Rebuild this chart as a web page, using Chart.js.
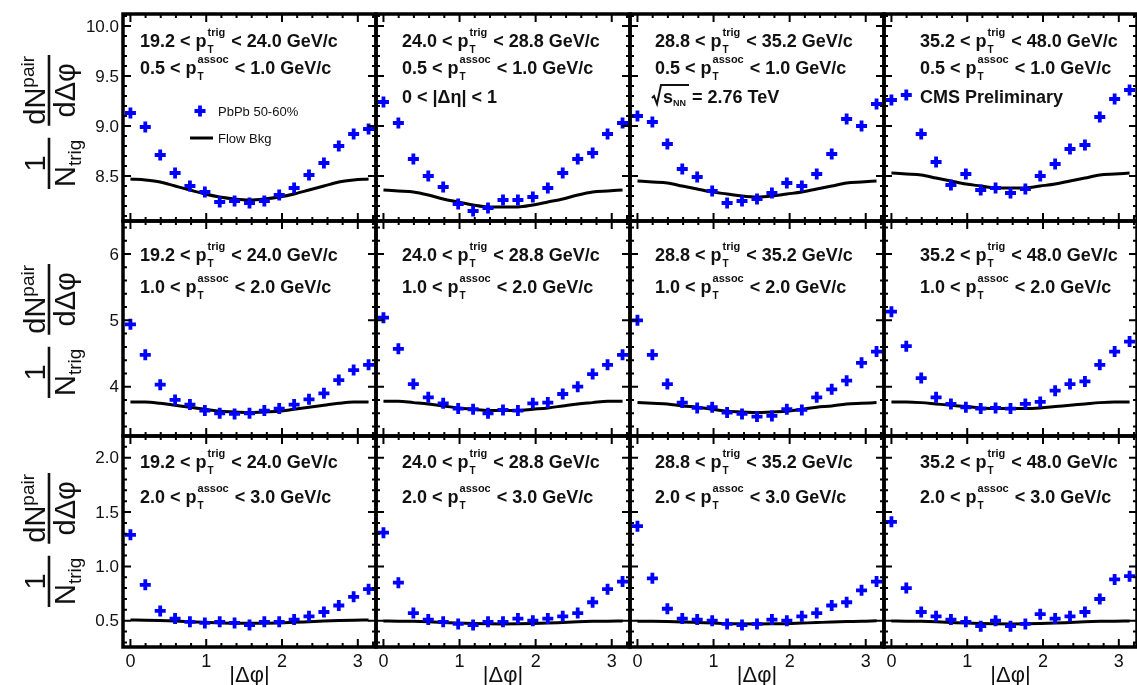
<!DOCTYPE html>
<html lang="en">
<head>
<meta charset="UTF-8" />
<title>PbPb 50-60% dihadron correlations</title>
<script src="https://cdn.jsdelivr.net/npm/chart.js"></script>
<style>
  html, body { margin: 0; padding: 0; background: #fff; }
  #wrap { position: relative; width: 1137px; height: 685px; overflow: hidden; background: #fff; }
  #wrap canvas { position: absolute; }
</style>
</head>
<body>
<div id="wrap"></div>
<script>
// |dphi| bin centres, k*pi/16
const dphi = [0, 0.196, 0.393, 0.589, 0.785, 0.982, 1.178, 1.374, 1.571, 1.767, 1.963, 2.160, 2.356, 2.553, 2.749, 2.945, 3.142];

const trigBins = ["19.2", "24.0", "28.8", "35.2", "48.0"];
const assocBins = [["0.5", "1.0"], ["1.0", "2.0"], ["2.0", "3.0"]];

// PbPb 50-60%, row = assoc bin, col = trig bin
const pbpb_a1_t1 = [9.13, 8.99, 8.71, 8.53, 8.40, 8.34, 8.24, 8.25, 8.23, 8.25, 8.31, 8.38, 8.51, 8.63, 8.80, 8.92, 8.97];
const pbpb_a1_t2 = [9.24, 9.03, 8.67, 8.50, 8.39, 8.22, 8.15, 8.18, 8.26, 8.26, 8.29, 8.38, 8.53, 8.67, 8.73, 8.92, 9.03];
const pbpb_a1_t3 = [9.10, 9.04, 8.82, 8.57, 8.49, 8.35, 8.23, 8.25, 8.27, 8.33, 8.43, 8.40, 8.52, 8.72, 9.07, 9.00, 9.22];
const pbpb_a1_t4 = [9.26, 9.31, 8.92, 8.64, 8.41, 8.52, 8.36, 8.38, 8.33, 8.37, 8.50, 8.62, 8.77, 8.81, 9.09, 9.27, 9.36];

const pbpb_a2_t1 = [4.94, 4.48, 4.03, 3.80, 3.73, 3.64, 3.60, 3.59, 3.60, 3.64, 3.67, 3.73, 3.81, 3.90, 4.10, 4.25, 4.33];
const pbpb_a2_t2 = [5.04, 4.57, 4.04, 3.84, 3.75, 3.67, 3.66, 3.60, 3.65, 3.64, 3.75, 3.76, 3.89, 4.00, 4.19, 4.33, 4.48];
const pbpb_a2_t3 = [5.00, 4.48, 4.04, 3.76, 3.68, 3.69, 3.61, 3.59, 3.55, 3.56, 3.66, 3.65, 3.84, 3.96, 4.09, 4.36, 4.53];
const pbpb_a2_t4 = [5.13, 4.61, 4.13, 3.84, 3.74, 3.69, 3.67, 3.68, 3.67, 3.74, 3.77, 3.94, 4.04, 4.08, 4.33, 4.53, 4.68];

const pbpb_a3_t1 = [1.29, 0.83, 0.59, 0.52, 0.49, 0.48, 0.49, 0.48, 0.46, 0.49, 0.49, 0.51, 0.54, 0.58, 0.64, 0.72, 0.79];
const pbpb_a3_t2 = [1.31, 0.85, 0.57, 0.51, 0.49, 0.47, 0.46, 0.49, 0.49, 0.52, 0.50, 0.52, 0.54, 0.57, 0.67, 0.79, 0.86];
const pbpb_a3_t3 = [1.37, 0.89, 0.61, 0.52, 0.51, 0.50, 0.47, 0.46, 0.47, 0.51, 0.50, 0.54, 0.57, 0.64, 0.67, 0.78, 0.86];
const pbpb_a3_t4 = [1.41, 0.80, 0.58, 0.54, 0.51, 0.49, 0.45, 0.50, 0.45, 0.47, 0.56, 0.52, 0.54, 0.58, 0.70, 0.88, 0.91];

// Flow Bkg curves
const flow_a1_t1 = [8.47, 8.46, 8.44, 8.40, 8.36, 8.32, 8.29, 8.27, 8.26, 8.27, 8.29, 8.32, 8.36, 8.40, 8.44, 8.46, 8.47];
const flow_a1_t2 = [8.36, 8.35, 8.34, 8.31, 8.27, 8.24, 8.21, 8.19, 8.19, 8.19, 8.21, 8.24, 8.27, 8.31, 8.34, 8.35, 8.36];
const flow_a1_t3 = [8.45, 8.44, 8.43, 8.40, 8.37, 8.34, 8.32, 8.30, 8.29, 8.30, 8.32, 8.34, 8.37, 8.40, 8.43, 8.44, 8.45];
const flow_a1_t4 = [8.53, 8.52, 8.51, 8.48, 8.45, 8.42, 8.40, 8.38, 8.38, 8.38, 8.40, 8.42, 8.45, 8.48, 8.51, 8.52, 8.53];

const flow_a2_t1 = [3.77, 3.77, 3.75, 3.72, 3.69, 3.66, 3.63, 3.62, 3.61, 3.62, 3.63, 3.66, 3.69, 3.72, 3.75, 3.77, 3.77];
const flow_a2_t2 = [3.78, 3.78, 3.76, 3.74, 3.71, 3.68, 3.66, 3.64, 3.64, 3.64, 3.66, 3.68, 3.71, 3.74, 3.76, 3.78, 3.78];
const flow_a2_t3 = [3.76, 3.75, 3.74, 3.71, 3.69, 3.66, 3.63, 3.62, 3.61, 3.62, 3.63, 3.66, 3.69, 3.71, 3.74, 3.75, 3.76];
const flow_a2_t4 = [3.77, 3.77, 3.76, 3.74, 3.72, 3.70, 3.68, 3.67, 3.67, 3.67, 3.68, 3.70, 3.72, 3.74, 3.76, 3.77, 3.77];

const flow_a3_t1 = [0.506, 0.505, 0.502, 0.497, 0.491, 0.485, 0.480, 0.477, 0.476, 0.477, 0.480, 0.485, 0.491, 0.497, 0.502, 0.505, 0.506];
const flow_a3_t2 = [0.497, 0.496, 0.494, 0.490, 0.484, 0.478, 0.474, 0.471, 0.470, 0.471, 0.474, 0.478, 0.484, 0.490, 0.494, 0.496, 0.497];
const flow_a3_t3 = [0.495, 0.494, 0.492, 0.488, 0.483, 0.478, 0.473, 0.471, 0.470, 0.471, 0.473, 0.478, 0.483, 0.488, 0.492, 0.494, 0.500];
const flow_a3_t4 = [0.497, 0.496, 0.494, 0.490, 0.484, 0.478, 0.474, 0.471, 0.470, 0.471, 0.474, 0.478, 0.484, 0.490, 0.494, 0.496, 0.497];

const pbpb = [
  [pbpb_a1_t1, pbpb_a1_t2, pbpb_a1_t3, pbpb_a1_t4],
  [pbpb_a2_t1, pbpb_a2_t2, pbpb_a2_t3, pbpb_a2_t4],
  [pbpb_a3_t1, pbpb_a3_t2, pbpb_a3_t3, pbpb_a3_t4]
];
const flow = [
  [flow_a1_t1, flow_a1_t2, flow_a1_t3, flow_a1_t4],
  [flow_a2_t1, flow_a2_t2, flow_a2_t3, flow_a2_t4],
  [flow_a3_t1, flow_a3_t2, flow_a3_t3, flow_a3_t4]
];

// axes
const xRange = [-0.098, 3.240];
const xTicks = [0, 1, 2, 3];
const yRange = [[8.05, 10.12], [3.257, 6.497], [0.258, 2.2]];
const yTicks = [[8.5, 9.0, 9.5, 10.0], [4, 5, 6], [0.5, 1.0, 1.5, 2.0]];
const yTickText = [["8.5", "9.0", "9.5", "10.0"], ["4", "5", "6"], ["0.5", "1.0", "1.5", "2.0"]];
const yMinorStep = [0.1, 0.2, 0.1];

// layout (pixels)
const colLeft = [123, 376, 630, 884], colRight = [376, 630, 884, 1137];
const rowTop = [14, 221, 436], rowBottom = [221, 436, 647];
const labelDx = [17, 26, 25, 36];
const labelDy = [[27, 54, 83], [34, 66], [26, 61]];
const yTitleY = [122, 331, 540];

const FONT = '"Liberation Sans", Arial, Helvetica, sans-serif';
const INK = '#111';
const LBL = 18;

function ptLabel(ctx, x, yc, pre, sup, post) {
  const yb = yc + 6;
  ctx.font = `bold ${LBL}px ${FONT}`;
  ctx.fillText(pre, x, yb);
  x += ctx.measureText(pre).width;
  ctx.font = `bold 11px ${FONT}`;
  ctx.fillText(sup, x + 1, yb - 11);
  const wsup = ctx.measureText(sup).width;
  ctx.font = `bold 10px ${FONT}`;
  ctx.fillText("T", x + 1, yb + 6);
  x += wsup + 2;
  ctx.font = `bold ${LBL}px ${FONT}`;
  ctx.fillText(post, x, yb);
}

function sqrtS(ctx, x, yc) {
  const yb = yc + 6;
  ctx.lineWidth = 2;
  ctx.beginPath();
  ctx.moveTo(x, yb - 5);
  ctx.lineTo(x + 2, yb - 7);
  ctx.lineTo(x + 5, yb + 1);
  ctx.lineTo(x + 9, yb - 18);
  ctx.lineTo(x + 37, yb - 18);
  ctx.stroke();
  ctx.font = `bold ${LBL}px ${FONT}`;
  ctx.fillText("s", x + 11, yb);
  let xx = x + 11 + ctx.measureText("s").width;
  ctx.font = `bold 9px ${FONT}`;
  ctx.fillText("NN", xx, yb + 3);
  xx += ctx.measureText("NN").width + 1;
  ctx.font = `bold ${LBL}px ${FONT}`;
  ctx.fillText(" = 2.76 TeV", xx, yb);
}

function yTitle(ctx, cx, cy) {
  ctx.save();
  ctx.translate(cx, cy);
  ctx.rotate(-Math.PI / 2);
  const big = `29px ${FONT}`, small = `19px ${FONT}`;
  ctx.font = big;
  const w1 = ctx.measureText("1").width, wN = ctx.measureText("N").width;
  const wdN = ctx.measureText("dN").width, wdd = ctx.measureText("d\u0394\u03c6").width;
  ctx.font = small;
  const wtrig = ctx.measureText("trig").width, wpair = ctx.measureText("pair").width;
  const f1 = Math.max(w1, wN + wtrig) + 4;
  const f2 = Math.max(wdN + wpair, wdd) + 2;
  const gap = 12;
  const x0 = -(f1 + gap + f2) / 2, x2 = x0 + f1 + gap;
  ctx.strokeStyle = INK;
  ctx.lineWidth = 2.6;
  ctx.beginPath();
  ctx.moveTo(x0, 0); ctx.lineTo(x0 + f1, 0);
  ctx.moveTo(x2, 0); ctx.lineTo(x2 + f2, 0);
  ctx.stroke();
  ctx.font = big;
  ctx.fillText("1", x0 + (f1 - w1) / 2, -4);
  const nx = x0 + (f1 - wN - wtrig) / 2;
  ctx.fillText("N", nx, 26);
  ctx.font = small;
  ctx.fillText("trig", nx + wN, 32);
  const dx = x2 + (f2 - wdN - wpair) / 2;
  ctx.font = big;
  ctx.fillText("dN", dx, -4);
  ctx.font = small;
  ctx.fillText("pair", dx + wdN, -15);
  ctx.font = big;
  ctx.fillText("d\u0394\u03c6", x2 + (f2 - wdd) / 2, 26);
  ctx.restore();
}

// frame + inward ROOT-style ticks on every side
function framePlugin(r) {
  return {
    id: "frame",
    afterDatasetsDraw(chart) {
      const { ctx, chartArea: a, scales: { x, y } } = chart;
      ctx.save();
      ctx.strokeStyle = "#000";
      ctx.lineWidth = 2;
      ctx.beginPath();
      for (let i = 0; i <= 16; i++) {
        const v = i * 0.2, px = x.getPixelForValue(v);
        const len = i % 5 === 0 ? 8 : 4;
        ctx.moveTo(px, a.bottom); ctx.lineTo(px, a.bottom - len);
        ctx.moveTo(px, a.top); ctx.lineTo(px, a.top + len);
      }
      const st = yMinorStep[r];
      for (let i = Math.ceil(yRange[r][0] / st - 1e-6); i * st <= yRange[r][1] + 1e-9; i++) {
        const py = y.getPixelForValue(i * st);
        const len = i % 5 === 0 ? 8 : 4;
        ctx.moveTo(a.left, py); ctx.lineTo(a.left + len, py);
        ctx.moveTo(a.right, py); ctx.lineTo(a.right - len, py);
      }
      ctx.stroke();
      ctx.lineWidth = 3.5;
      ctx.strokeRect(a.left, a.top, a.right - a.left, a.bottom - a.top);
      ctx.restore();
    }
  };
}

function textPlugin(r, c, canvasTop) {
  return {
    id: "panelText",
    afterDraw(chart) {
      const { ctx, chartArea: a, scales: { x, y } } = chart;
      ctx.save();
      ctx.fillStyle = INK;
      ctx.strokeStyle = INK;
      ctx.textBaseline = "alphabetic";
      ctx.textAlign = "left";
      const lx = a.left + labelDx[c];
      const ly = labelDy[r].map(d => a.top + d);
      ptLabel(ctx, lx, ly[0], trigBins[c] + " < p", "trig", " < " + trigBins[c + 1] + " GeV/c");
      ptLabel(ctx, lx, ly[1], assocBins[r][0] + " < p", "assoc", " < " + assocBins[r][1] + " GeV/c");
      if (r === 0) {
        ctx.font = `bold ${LBL}px ${FONT}`;
        if (c === 1) ctx.fillText("0 < |\u0394\u03b7| < 1", lx, ly[2] + 6);
        if (c === 2) sqrtS(ctx, lx - 3, ly[2]);
        if (c === 3) ctx.fillText("CMS Preliminary", lx, ly[2] + 6);
        if (c === 0) {
          // legend
          const mx = a.left + 77, my = a.top + 97;
          ctx.strokeStyle = "#0000ff";
          ctx.lineWidth = 3.8;
          ctx.beginPath();
          ctx.moveTo(mx - 5.5, my); ctx.lineTo(mx + 5.5, my);
          ctx.moveTo(mx, my - 5.5); ctx.lineTo(mx, my + 5.5);
          ctx.stroke();
          ctx.strokeStyle = "#000";
          ctx.lineWidth = 3;
          ctx.beginPath();
          ctx.moveTo(a.left + 67, a.top + 124); ctx.lineTo(a.left + 90, a.top + 124);
          ctx.stroke();
          ctx.font = `13px ${FONT}`;
          ctx.fillText("PbPb 50-60%", a.left + 95, my + 5);
          ctx.fillText("Flow Bkg", a.left + 95, a.top + 129);
        }
      }
      if (c === 0) {
        ctx.font = `17px ${FONT}`;
        ctx.textAlign = "right";
        ctx.textBaseline = "middle";
        yTicks[r].forEach((v, i) => ctx.fillText(yTickText[r][i], a.left - 4, y.getPixelForValue(v) + 1));
        ctx.textAlign = "left";
        ctx.textBaseline = "alphabetic";
        yTitle(ctx, 49, yTitleY[r] - canvasTop);
      }
      if (r === 2) {
        ctx.font = `18px ${FONT}`;
        ctx.textAlign = "center";
        xTicks.forEach(v => ctx.fillText(String(v), x.getPixelForValue(v), a.bottom + 20));
        ctx.font = `22px ${FONT}`;
        ctx.fillText("|\u0394\u03c6|", (a.left + a.right) / 2, a.bottom + 35);
      }
      ctx.restore();
    }
  };
}

const wrap = document.getElementById("wrap");
for (let r = 0; r < 3; r++) {
  for (let c = 0; c < 4; c++) {
    const L = c === 0 ? 0 : colLeft[c] - 4;
    const T = r === 0 ? 0 : rowTop[r] - 4;
    const R = c === 3 ? 1137 : colRight[c] + 4;
    const B = r === 2 ? 685 : rowBottom[r] + 4;
    const cv = document.createElement("canvas");
    cv.width = R - L; cv.height = B - T;
    cv.style.left = L + "px"; cv.style.top = T + "px";
    cv.style.width = (R - L) + "px"; cv.style.height = (B - T) + "px";
    wrap.appendChild(cv);

    new Chart(cv, {
      type: "scatter",
      data: {
        datasets: [
          {
            label: "PbPb 50-60%",
            data: dphi.map((v, i) => ({ x: v, y: pbpb[r][c][i] })),
            pointStyle: "cross",
            pointRadius: 5.5,
            borderColor: "#0000ff",
            backgroundColor: "#0000ff",
            pointBorderWidth: 3.8,
            order: 1
          },
          {
            label: "Flow Bkg",
            data: dphi.map((v, i) => ({ x: v, y: flow[r][c][i] })),
            showLine: true,
            cubicInterpolationMode: "monotone",
            borderColor: "#000",
            borderWidth: 3,
            pointRadius: 0,
            fill: false,
            order: 2
          }
        ]
      },
      options: {
        responsive: false,
        animation: false,
        devicePixelRatio: 1,
        events: [],
        layout: {
          autoPadding: false,
          padding: { left: colLeft[c] - L, top: rowTop[r] - T, right: R - colRight[c], bottom: B - rowBottom[r] }
        },
        plugins: { legend: { display: false }, tooltip: { enabled: false } },
        scales: {
          x: { type: "linear", min: xRange[0], max: xRange[1], display: false },
          y: { type: "linear", min: yRange[r][0], max: yRange[r][1], display: false }
        }
      },
      plugins: [framePlugin(r), textPlugin(r, c, T)]
    });
  }
}
</script>
</body>
</html>
